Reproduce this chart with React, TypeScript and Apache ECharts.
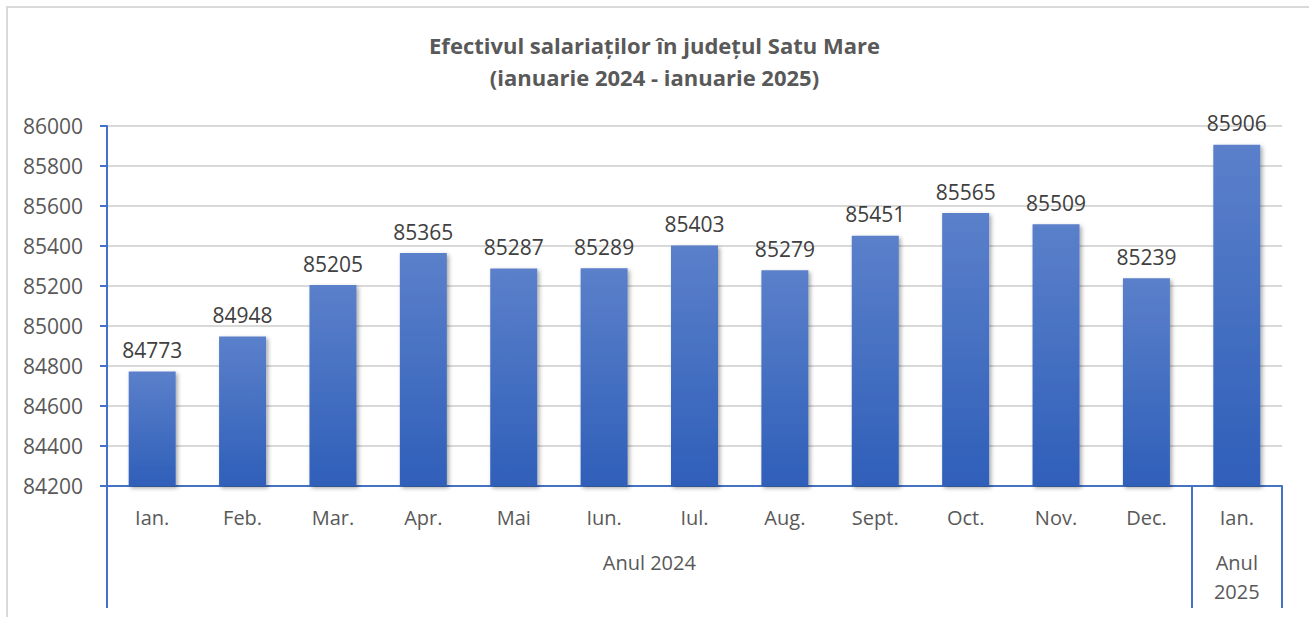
import React, { useEffect, useRef } from "react";
import * as echarts from "echarts";

const titleLines = ["Efectivul salariaților în județul Satu Mare", "(ianuarie 2024 - ianuarie 2025)"];
const months = ["Ian.", "Feb.", "Mar.", "Apr.", "Mai", "Iun.", "Iul.", "Aug.", "Sept.", "Oct.", "Nov.", "Dec.", "Ian."];
const values = [84773, 84948, 85205, 85365, 85287, 85289, 85403, 85279, 85451, 85565, 85509, 85239, 85906];
const yearGroups = [
  { label: "Anul 2024", start: 0, end: 12 },
  { label: "Anul\n2025", start: 12, end: 13 },
];
const yMin = 84200;
const yMax = 86000;
const yStep = 200;

const FONT = "'Open Sans', sans-serif";
const AXIS_BLUE = "#4472C4";

export default function App() {
  const ref = useRef<HTMLDivElement>(null);
  useEffect(() => {
    if (!ref.current) return;
    const chart = echarts.init(ref.current, undefined, { renderer: "svg" });
    const boundaries = Array.from(new Set(yearGroups.flatMap((g) => [g.start, g.end])));
    const centers = yearGroups.map((g) => (g.start + g.end) / 2);
    chart.setOption({
      animation: false,
      backgroundColor: "#ffffff",
      textStyle: { fontFamily: FONT },
      title: {
        text: titleLines.join("\n"),
        left: "center",
        top: 24,
        textStyle: { fontFamily: FONT, fontSize: 22, fontWeight: "bold", color: "#595959", lineHeight: 32 },
      },
      graphic: [
        {
          type: "rect",
          shape: { x: 7, y: 7, width: 1400, height: 700 },
          style: { fill: "none", stroke: "#d9d9d9", lineWidth: 2 },
          silent: true,
          z: -1,
        },
      ],
      grid: { left: 107, right: 27, top: 126, bottom: 131, containLabel: false },
      xAxis: [
        {
          type: "category",
          data: months,
          position: "bottom",
          axisLine: { show: true, lineStyle: { color: AXIS_BLUE, width: 2 } },
          axisTick: { show: false },
          axisLabel: { color: "#595959", fontSize: 20, fontFamily: FONT, margin: 21, interval: 0 },
          splitLine: { show: false },
        },
        {
          type: "value",
          min: 0,
          max: months.length,
          position: "bottom",
          axisLine: { show: false },
          splitLine: { show: false },
          axisTick: {
            show: true,
            customValues: boundaries,
            length: 122,
            lineStyle: { color: AXIS_BLUE, width: 2 },
          },
          axisLabel: {
            show: true,
            customValues: centers,
            margin: 62,
            color: "#595959",
            fontSize: 20,
            lineHeight: 29,
            fontFamily: FONT,
            verticalAlign: "top",
            formatter: (v: number) => {
              const g = yearGroups.find((gg) => Math.abs((gg.start + gg.end) / 2 - v) < 1e-6);
              return g ? g.label : "";
            },
          },
        },
      ],
      yAxis: {
        type: "value",
        min: yMin,
        max: yMax,
        interval: yStep,
        axisLine: { show: true, lineStyle: { color: AXIS_BLUE, width: 2 } },
        axisTick: { show: true, length: 7, lineStyle: { color: AXIS_BLUE, width: 2 } },
        axisLabel: {
          color: "#595959",
          fontSize: 21,
          fontFamily: FONT,
          margin: 24,
          formatter: (v: number) => String(v),
        },
        splitLine: { show: true, lineStyle: { color: "#d9d9d9", width: 2 } },
      },
      series: [
        {
          type: "bar",
          xAxisIndex: 0,
          data: values,
          barWidth: 47,
          itemStyle: {
            color: new echarts.graphic.LinearGradient(0, 0, 0, 1, [
              { offset: 0, color: "#5b80ca" },
              { offset: 1, color: "#2f5fb9" },
            ]),
            shadowBlur: 4,
            shadowColor: "rgba(0,0,0,0.35)",
            shadowOffsetX: 2,
            shadowOffsetY: 2,
          },
          label: {
            show: true,
            position: "top",
            distance: 11,
            color: "#404040",
            fontSize: 21,
            fontFamily: FONT,
          },
        },
      ],
    });
    return () => chart.dispose();
  }, []);
  return <div ref={ref} style={{ position: "fixed", left: 0, top: 0, width: 1309, height: 617 }} />;
}
